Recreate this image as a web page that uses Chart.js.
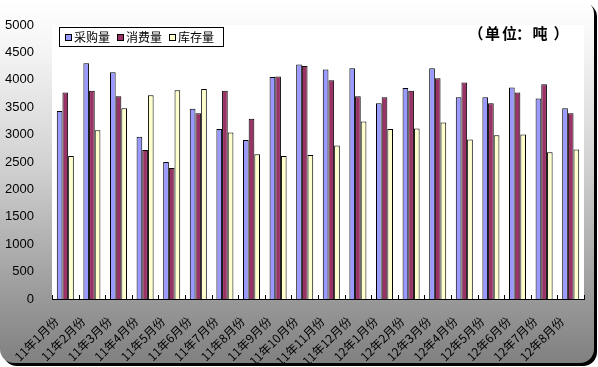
<!DOCTYPE html>
<html>
<head>
<meta charset="utf-8">
<script src="https://cdn.jsdelivr.net/npm/chart.js@4.4.1/dist/chart.umd.min.js"></script>
<style>
  html, body { margin: 0; padding: 0; background: #fff; }
  #wrap { width: 598px; height: 367px; }
</style>
</head>
<body>
<div id="wrap"><canvas id="stockChart" width="598" height="367"></canvas></div>
<script>
// categories and series
const months = ['11年1月份', '11年2月份', '11年3月份', '11年4月份', '11年5月份', '11年6月份', '11年7月份',
  '11年8月份', '11年9月份', '11年10月份', '11年11月份', '11年12月份', '12年1月份', '12年2月份',
  '12年3月份', '12年4月份', '12年5月份', '12年6月份', '12年7月份', '12年8月份'];
const purchase = [3430, 4300, 4140, 2960, 2500, 3470, 3100, 2900, 4050, 4280, 4190, 4210, 3570, 3850, 4210, 3680, 3680, 3860, 3660, 3480];
const consumption = [3770, 3800, 3700, 2720, 2390, 3390, 3800, 3290, 4060, 4250, 3990, 3700, 3680, 3800, 4030, 3950, 3570, 3770, 3920, 3390];
const stock = [2610, 3080, 3480, 3720, 3810, 3830, 3040, 2640, 2610, 2630, 2800, 3240, 3100, 3110, 3220, 2910, 2990, 3000, 2680, 2730];
const yTicks = [0, 500, 1000, 1500, 2000, 2500, 3000, 3500, 4000, 4500, 5000];
const unitText = '（单位：吨）';

// gray gradient card + white plot area
const backdrop = {
  id: 'backdrop',
  beforeDraw(chart) {
    const c = chart.ctx, a = chart.chartArea;
    c.save();
    c.fillStyle = '#fff';
    c.fillRect(0, 0, chart.width, chart.height);
    const g = c.createLinearGradient(0, 0, 0, 364);
    g.addColorStop(0, '#ffffff');
    g.addColorStop(0.12, '#f6f6f6');
    g.addColorStop(0.45, '#d2d2d2');
    g.addColorStop(0.8, '#9c9c9c');
    g.addColorStop(1, '#808080');
    c.shadowColor = '#000';
    c.shadowOffsetX = 3;
    c.shadowOffsetY = 3;
    c.fillStyle = g;
    c.beginPath();
    c.roundRect(0, 0, 594, 363, 14);
    c.fill();
    c.shadowColor = 'transparent';
    c.fillStyle = '#fff';
    c.fillRect(a.left, a.top, a.right - a.left, a.bottom - a.top);
    c.restore();
  },
  afterDatasetsDraw(chart) {
    // small upward tick marks between categories
    const c = chart.ctx, x = chart.scales.x, a = chart.chartArea;
    const step = (x.right - x.left) / months.length;
    c.save();
    c.strokeStyle = '#000';
    c.lineWidth = 1;
    c.beginPath();
    for (let i = 0; i <= months.length; i++) {
      const px = Math.round(x.left + i * step) + 0.5;
      c.moveTo(px, a.bottom);
      c.lineTo(px, a.bottom - 4);
    }
    c.stroke();
    c.restore();
  },
  afterDraw(chart) {
    const c = chart.ctx;
    c.save();
    // legend box
    c.fillStyle = '#fff';
    c.fillRect(59.5, 27.5, 164, 19);
    c.strokeStyle = '#000';
    c.lineWidth = 1;
    c.strokeRect(59.5, 27.5, 164, 19);
    const xs = [65, 117, 169];
    c.font = '12px "Noto Sans CJK SC"';
    c.textBaseline = 'middle';
    chart.data.datasets.forEach((ds, i) => {
      c.fillStyle = ds.backgroundColor;
      c.fillRect(xs[i] + 0.5, 34.5, 6, 6);
      c.strokeRect(xs[i] + 0.5, 34.5, 6, 6);
      c.fillStyle = '#000';
      c.fillText(ds.label, xs[i] + 9, 37.5);
    });
    // unit note, one cell per character
    c.font = 'bold 15px "Noto Sans CJK SC"';
    c.textAlign = 'center';
    const cells = [476, 492.5, 509.5, 523.5, 540, 561];
    [...unitText].forEach((ch, i) => c.fillText(ch, cells[i], 33));
    c.restore();
  }
};

const ctx = document.getElementById('stockChart');
new Chart(ctx, {
  type: 'bar',
  data: {
    labels: months,
    datasets: [
      { label: '采购量', data: purchase, backgroundColor: '#9999ff' },
      { label: '消费量', data: consumption, backgroundColor: '#993366' },
      { label: '库存量', data: stock, backgroundColor: '#ffffcc' }
    ]
  },
  options: {
    responsive: false,
    animation: false,
    layout: { padding: { top: 25, right: 14, left: 0, bottom: 0 } },
    datasets: {
      bar: { borderColor: '#000', borderWidth: 1, categoryPercentage: 0.64, barPercentage: 1 }
    },
    plugins: { legend: { display: false }, tooltip: { enabled: false } },
    scales: {
      x: {
        grid: { display: false },
        border: { color: '#000', width: 1 },
        ticks: {
          color: '#000',
          font: { family: '"Noto Sans CJK SC"', size: 12 },
          maxRotation: 45,
          minRotation: 45,
          autoSkip: false,
          padding: 7,
          labelOffset: -9
        },
        afterFit(scale) { scale.height = 68; }
      },
      y: {
        min: 0,
        max: 5000,
        afterBuildTicks(scale) { scale.ticks = yTicks.map(v => ({ value: v })); },
        grid: { display: false },
        border: { display: false },
        ticks: {
          color: '#000',
          font: { family: '"Liberation Sans"', size: 13 },
          padding: 10,
          callback: v => String(v)
        },
        afterFit(scale) { scale.width = 52; }
      }
    }
  },
  plugins: [backdrop]
});
</script>
</body>
</html>
